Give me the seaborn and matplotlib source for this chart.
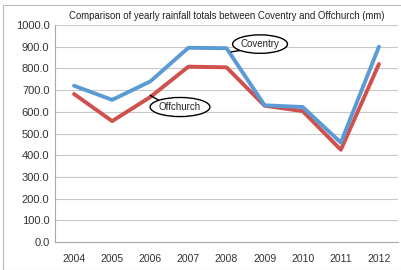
import pandas as pd
import matplotlib.pyplot as plt
import seaborn as sns
from matplotlib.patches import Rectangle, Ellipse

# Chart data
years = ['2004', '2005', '2006', '2007', '2008', '2009', '2010', '2011', '2012']
coventry = [720, 655, 740, 895, 893, 630, 622, 458, 900]
offchurch = [682, 557, 668, 808, 805, 628, 603, 425, 820]

df = pd.DataFrame({
    'year': years * 2,
    'rain': coventry + offchurch,
    'site': ['Coventry'] * len(years) + ['Offchurch'] * len(years),
})
df['pos'] = list(range(len(years))) * 2

sns.set_style('white')
plt.rcParams['font.family'] = ['Liberation Sans', 'DejaVu Sans']

fig = plt.figure(figsize=(4.02, 2.70), dpi=100)
ax = fig.add_axes([55 / 402, 1 - 242 / 270, 343 / 402, 217 / 270])

sns.lineplot(data=df, x='pos', y='rain', hue='site',
             palette={'Coventry': '#5b9bd5', 'Offchurch': '#d0504d'},
             hue_order=['Offchurch', 'Coventry'],
             linewidth=2.8, legend=False, ax=ax)

ax.set_xlim(-0.5, len(years) - 0.5)
ax.set_ylim(0, 1000)
ax.set_yticks(range(0, 1001, 100))
ax.set_yticklabels([f'{v:.1f}' for v in range(0, 1001, 100)], fontsize=8, color='#333333')
ax.set_xticks(range(len(years)))
ax.set_xticklabels(years, fontsize=7.5, color='#333333')
ax.set_xticks([i - 0.5 for i in range(len(years) + 1)], minor=True)
ax.tick_params(axis='x', which='major', length=0, pad=9)
ax.tick_params(axis='x', which='minor', length=3, color='#aaaaaa')
ax.tick_params(axis='y', length=0, pad=4)
ax.yaxis.grid(True, color='#c8c8c8', linewidth=0.8)
ax.set_axisbelow(True)
for s in ['top', 'right']:
    ax.spines[s].set_visible(False)
ax.spines['left'].set_color('#aaaaaa')
ax.spines['bottom'].set_color('#aaaaaa')
ax.set_xlabel('')
ax.set_ylabel('')

ax.set_title('Comparison of yearly rainfall totals between Coventry and Offchurch (mm)',
             fontsize=6.9, color='#222222', pad=4)

# speech-bubble callouts
def callout(label, center, size, tip, base):
    e = Ellipse(center, size[0], size[1], fc='white', ec='black', lw=1.0,
                zorder=5, clip_on=False)
    ax.add_patch(e)
    ax.plot([base[0], tip[0]], [base[1], tip[1]], color='black', lw=1.0,
            zorder=4, clip_on=False)
    ax.text(center[0], center[1], label, fontsize=7, ha='center', va='center',
            zorder=6, color='#222222')

callout('Coventry', (4.88, 912), (1.44, 85), (4.12, 876), (4.45, 885))
callout('Offchurch', (2.78, 622), (1.57, 88), (2.0, 676), (2.3, 645))

# outer frame
fig.patches.append(Rectangle((3 / 402, 0), 1, 1 - 5 / 270, transform=fig.transFigure,
                             fill=False, ec='#bbbbbb', lw=0.8))

fig.savefig('out.png', dpi=100)
